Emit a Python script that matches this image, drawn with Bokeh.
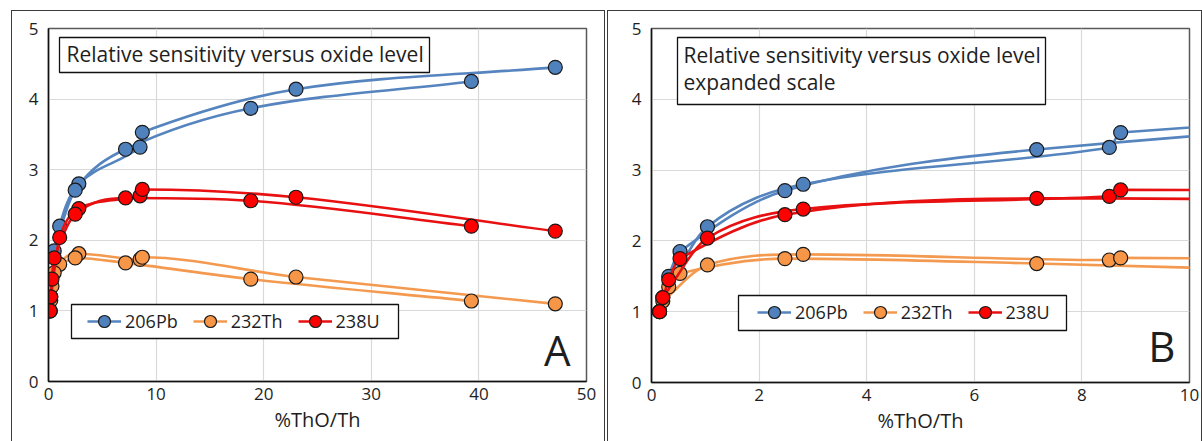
import numpy as np
from bokeh.plotting import figure
from bokeh.models import (Range1d, Label, Legend, LegendItem, ColumnDataSource,
                          FixedTicker, BoxAnnotation)
from bokeh.layouts import row
from bokeh.embed import file_html
from bokeh.resources import INLINE

# ---------------- data ----------------
# two measurement runs; run 1 ends at 47 %ThO/Th, run 2 at 39 %ThO/Th
x_run1 = [0.21, 1.04, 2.82, 8.51, 8.72, 23.0, 47.1]
x_run2 = [0.15, 0.32, 0.53, 2.48, 7.16, 18.8, 39.3]

pb_run1 = [1.20, 2.20, 2.80, 3.32, 3.53, 4.14, 4.45]
pb_run2 = [1.00, 1.50, 1.85, 2.71, 3.29, 3.87, 4.25]

th_run1 = [1.15, 1.66, 1.81, 1.73, 1.76, 1.48, 1.10]
th_run2 = [1.00, 1.35, 1.54, 1.75, 1.68, 1.45, 1.14]

u_run1 = [1.20, 2.04, 2.45, 2.63, 2.72, 2.61, 2.13]
u_run2 = [1.00, 1.45, 1.75, 2.37, 2.60, 2.56, 2.20]

series_names = ["206Pb", "232Th", "238U"]
series_run1 = [pb_run1, th_run1, u_run1]
series_run2 = [pb_run2, th_run2, u_run2]
series_fill = ["#4F81BD", "#F79646", "#FF0000"]
series_line = ["#5584BE", "#F39A50", "#E81010"]

y_ticks = [0, 1, 2, 3, 4, 5]
xa_ticks = [0, 10, 20, 30, 40, 50]
xb_ticks = [0, 2, 4, 6, 8, 10]

FONT = "Open Sans"
TXT = "#1e1e1e"


def smooth_segments(xs, ys):
    """Bezier control points of a smooth line through the points (cardinal tangents,
    limited so that the line does not overshoot)."""
    xs = np.asarray(xs, float)
    ys = np.asarray(ys, float)
    h = np.diff(xs)
    d = np.diff(ys) / h
    n = len(xs)
    m = np.zeros(n)
    for k in range(1, n - 1):
        if d[k - 1] * d[k] <= 0:
            m[k] = 0.0
        else:
            c = (ys[k + 1] - ys[k - 1]) / (xs[k + 1] - xs[k - 1])
            lim = 3 * min(abs(d[k - 1]), abs(d[k]))
            m[k] = np.sign(c) * min(abs(c), lim)
    m[0] = d[0]
    m[-1] = d[-1]
    return dict(
        x0=xs[:-1], y0=ys[:-1], x1=xs[1:], y1=ys[1:],
        cx0=xs[:-1] + h / 3, cy0=ys[:-1] + m[:-1] * h / 3,
        cx1=xs[1:] - h / 3, cy1=ys[1:] - m[1:] * h / 3,
    )


def box(l, r, b, t):
    return BoxAnnotation(left=l, right=r, bottom=b, top=t,
                         left_units="screen", right_units="screen",
                         bottom_units="screen", top_units="screen",
                         fill_color="white", fill_alpha=1.0,
                         line_color="#111111", line_alpha=1.0, line_width=1.3,
                         level="annotation")


def make_panel(xmax, xticks, left, right, top, frame_h, title_lines, letter, letter_pos,
               title_box, title_pos, legend_loc, legend_box, margin):
    p = figure(frame_width=536, frame_height=frame_h,
               x_range=Range1d(0, xmax), y_range=Range1d(0, 5),
               output_backend="svg", toolbar_location=None,
               min_border_left=left, min_border_right=right,
               min_border_top=top, min_border_bottom=61,
               background_fill_color="white", border_fill_color="white")
    p.margin = margin
    p.styles = {"border-top": "1px solid #3c3c3c", "border-left": "1px solid #3c3c3c",
                "border-right": "1px solid #3c3c3c"}
    p.outline_line_color = "#5a5a5a"
    p.outline_line_width = 1.5

    p.xgrid.ticker = FixedTicker(ticks=xticks)
    p.ygrid.ticker = FixedTicker(ticks=y_ticks)
    for g in (p.xgrid, p.ygrid):
        g.grid_line_color = "#d9d9d9"
        g.grid_line_width = 1.2

    p.xaxis.ticker = FixedTicker(ticks=xticks)
    p.yaxis.ticker = FixedTicker(ticks=y_ticks)
    for ax in (p.xaxis, p.yaxis):
        ax.axis_line_color = "#111111"
        ax.axis_line_width = 1.5
        ax.major_tick_line_color = None
        ax.minor_tick_line_color = None
        ax.major_tick_out = 0
        ax.major_tick_in = 0
        ax.major_label_text_font = FONT
        ax.major_label_text_font_size = "17px"
        ax.major_label_text_color = TXT
    p.xaxis.major_label_standoff = 6
    p.yaxis.major_label_standoff = 10
    p.xaxis.axis_label = "%ThO/Th"
    p.xaxis.axis_label_text_font = FONT
    p.xaxis.axis_label_text_font_size = "20px"
    p.xaxis.axis_label_text_font_style = "normal"
    p.xaxis.axis_label_text_color = TXT
    p.xaxis.axis_label_standoff = 3

    items = []
    for name, r1, r2, fc, lc in zip(series_names, series_run1, series_run2,
                                    series_fill, series_line):
        brs = []
        for xs, ys in ((x_run1, r1), (x_run2, r2)):
            brs.append(p.bezier(x0="x0", y0="y0", x1="x1", y1="y1", cx0="cx0", cy0="cy0",
                                cx1="cx1", cy1="cy1",
                                source=ColumnDataSource(smooth_segments(xs, ys)),
                                line_color=lc, line_width=2.6))
        pts = ColumnDataSource(dict(x=x_run1 + x_run2, y=r1 + r2))
        sr = p.scatter("x", "y", source=pts, size=14, marker="circle",
                       fill_color=fc, line_color="#1a1a1a", line_width=1.2)
        items.append(LegendItem(label=name, renderers=[brs[0], sr]))

    # title box
    p.add_layout(box(*title_box))
    for (tx, ty), txt in zip(title_pos, title_lines):
        p.add_layout(Label(x=tx, y=ty, x_units="screen", y_units="screen", text=txt,
                           text_font=FONT, text_font_size="21px", text_color=TXT,
                           text_baseline="alphabetic", text_align="left"))

    # legend box + legend
    p.add_layout(box(*legend_box))
    leg = Legend(items=items, orientation="horizontal", location=legend_loc,
                 padding=0, margin=0, spacing=15, label_standoff=4,
                 glyph_width=34, glyph_height=30,
                 border_line_color=None, background_fill_alpha=0.0,
                 label_text_font=FONT, label_text_font_size="18px",
                 label_text_color=TXT)
    p.add_layout(leg, "center")

    lx, ly = letter_pos
    p.add_layout(Label(x=lx, y=ly, x_units="screen", y_units="screen", text=letter,
                       text_font=FONT, text_font_size="42px", text_color=TXT,
                       text_baseline="alphabetic", text_align="right"))
    return p


pA = make_panel(50, xa_ticks, left=36, right=20, top=17, frame_h=352,
                title_lines=["Relative sensitivity versus oxide level"],
                letter="A", letter_pos=(522, 32),
                title_box=(11, 381, 309, 344), title_pos=[(18, 328)],
                legend_loc=(39, 45), legend_box=(23, 350, 43, 77),
                margin=(10, 0, 0, 11))
pB = make_panel(10, xb_ticks, left=43, right=14, top=16, frame_h=353,
                title_lines=["Relative sensitivity versus oxide level", "expanded scale"],
                letter="B", letter_pos=(524, 37),
                title_box=(26, 394, 278, 345), title_pos=[(32, 328), (32, 301)],
                legend_loc=(106, 55), legend_box=(87, 415, 52, 87),
                margin=(10, 0, 0, 2))

layout = row(pA, pB, spacing=0)
open("out.html", "w").write(file_html(layout, INLINE))
